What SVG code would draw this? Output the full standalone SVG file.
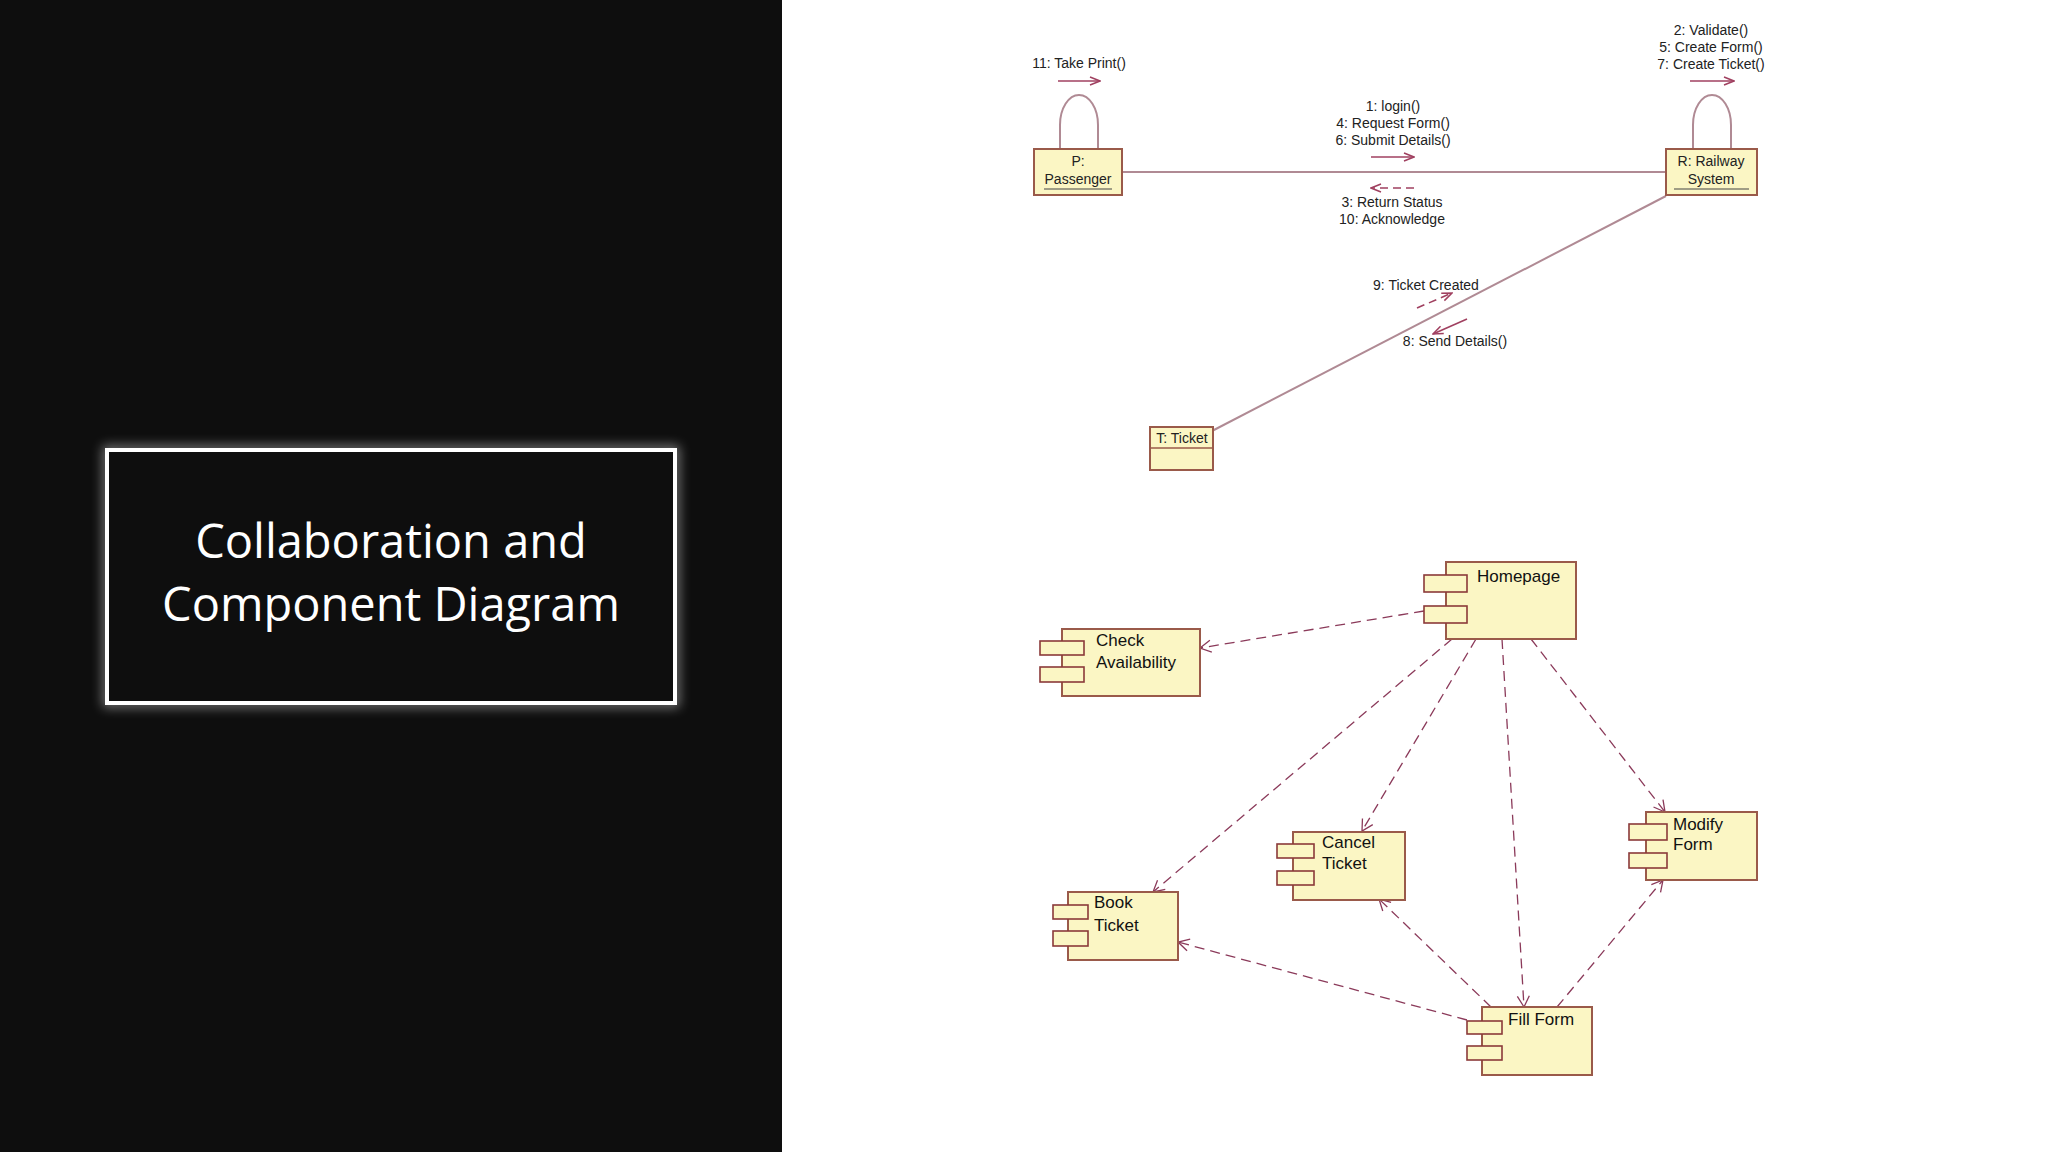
<svg xmlns="http://www.w3.org/2000/svg" width="2048" height="1152" viewBox="0 0 2048 1152">
<style>
.t{font-family:"Liberation Sans",Arial,sans-serif;font-size:14px;fill:#222}
.c{text-anchor:middle}
.ct{font-family:"Liberation Sans",Arial,sans-serif;font-size:17px;fill:#111}
.box{fill:#fbf6c4;stroke:#9a5a4a;stroke-width:2}
.tab{fill:#fbf6c4;stroke:#8b3a3a;stroke-width:1.6}
.ln{stroke:#b08a94;stroke-width:2;fill:none}
.ar{stroke:#a04060;stroke-width:1.6;fill:none}
.dep{stroke:#8b3a5a;stroke-width:1.3;fill:none;stroke-dasharray:10 6;marker-end:url(#open)}
</style>
<defs>
<marker id="open" markerWidth="14" markerHeight="14" refX="12" refY="7" orient="auto" markerUnits="userSpaceOnUse"><path d="M1,1 L12,7 L1,13" fill="none" stroke="#8b3a5a" stroke-width="1.3"/></marker>
<marker id="sa" markerWidth="12" markerHeight="10" refX="11" refY="5" orient="auto" markerUnits="userSpaceOnUse"><path d="M1,1 L11,5 L1,9" fill="none" stroke="#a04060" stroke-width="1.5"/></marker>
<filter id="glow" x="-20%" y="-20%" width="140%" height="140%"><feGaussianBlur stdDeviation="6"/></filter>
</defs>
<rect width="2048" height="1152" fill="#fff"/>
<rect width="782" height="1152" fill="#0e0e0e"/>
<g id="title">
<rect x="107" y="450" width="568" height="253" fill="none" stroke="#fff" stroke-width="8" opacity="0.5" filter="url(#glow)"/>
<rect x="107" y="450" width="568" height="253" fill="#0e0e0e" stroke="#fff" stroke-width="4"/>
<text x="391" y="558" text-anchor="middle" font-family="'Open Sans','Noto Sans',sans-serif" font-size="47" fill="#fff">Collaboration and</text>
<text x="391" y="621" text-anchor="middle" font-family="'Open Sans','Noto Sans',sans-serif" font-size="47" fill="#fff">Component Diagram</text>
</g>
<g id="connectors">
<line class="ln" x1="1122" y1="172" x2="1666" y2="172"/>
<line class="ln" x1="1666" y1="196" x2="1212" y2="431"/>
<path class="ln" d="M1060,149 V125 A19,30 0 0 1 1098,125 V149"/>
<path class="ln" d="M1693,149 V125 A19,30 0 0 1 1731,125 V149"/>
<line class="ar" x1="1058" y1="81" x2="1100" y2="81" marker-end="url(#sa)"/>
<line class="ar" x1="1690" y1="81" x2="1734" y2="81" marker-end="url(#sa)"/>
<line class="ar" x1="1371" y1="157" x2="1414" y2="157" marker-end="url(#sa)"/>
<line class="ar" x1="1414" y1="188" x2="1371" y2="188" stroke-dasharray="8 5" marker-end="url(#sa)"/>
<line class="ar" x1="1417" y1="308" x2="1452" y2="293" stroke-dasharray="8 5" marker-end="url(#sa)"/>
<line class="ar" x1="1467" y1="319" x2="1433" y2="334" marker-end="url(#sa)"/>
<line class="dep" x1="1424" y1="611" x2="1200" y2="648"/>
<line class="dep" x1="1452" y1="639" x2="1153" y2="892"/>
<line class="dep" x1="1476" y1="639" x2="1362" y2="831"/>
<line class="dep" x1="1502" y1="639" x2="1524" y2="1007"/>
<line class="dep" x1="1531" y1="639" x2="1665" y2="812"/>
<line class="dep" x1="1467" y1="1020" x2="1178" y2="942"/>
<line class="dep" x1="1491" y1="1007" x2="1379" y2="899"/>
<line class="dep" x1="1557" y1="1007" x2="1663" y2="880"/>
</g>
<g id="labels">
<text class="t c" x="1079" y="68">11: Take Print()</text>
<text class="t c" x="1711" y="35">2: Validate()</text>
<text class="t c" x="1711" y="52">5: Create Form()</text>
<text class="t c" x="1711" y="69">7: Create Ticket()</text>
<text class="t c" x="1393" y="111">1: login()</text>
<text class="t c" x="1393" y="128">4: Request Form()</text>
<text class="t c" x="1393" y="145">6: Submit Details()</text>
<text class="t c" x="1392" y="207">3: Return Status</text>
<text class="t c" x="1392" y="224">10: Acknowledge</text>
<text class="t c" x="1426" y="290">9: Ticket Created</text>
<text class="t c" x="1455" y="346">8: Send Details()</text>
</g>
<g id="passenger">
<rect class="box" x="1034" y="149" width="88" height="46"/>
<text class="t c" x="1078" y="166">P:</text>
<text class="t c" x="1078" y="184">Passenger</text>
<line x1="1044" y1="189" x2="1112" y2="189" stroke="#444" stroke-width="1"/>
</g>
<g id="railway">
<rect class="box" x="1666" y="149" width="91" height="46"/>
<text class="t c" x="1711" y="166">R: Railway</text>
<text class="t c" x="1711" y="184">System</text>
<line x1="1674" y1="189" x2="1749" y2="189" stroke="#444" stroke-width="1"/>
</g>
<g id="ticket">
<rect class="box" x="1150" y="427" width="63" height="43"/>
<line x1="1150" y1="448" x2="1213" y2="448" stroke="#9a5a4a" stroke-width="1.5"/>
<text class="t c" x="1182" y="443">T: Ticket</text>
</g>
<g id="homepage">
<rect class="box" x="1446" y="562" width="130" height="77"/>
<rect class="tab" x="1424" y="575" width="43" height="17"/>
<rect class="tab" x="1424" y="606" width="43" height="17"/>
<text class="ct" x="1477" y="582">Homepage</text>
</g>
<g id="check">
<rect class="box" x="1062" y="629" width="138" height="67"/>
<rect class="tab" x="1040" y="641" width="44" height="14"/>
<rect class="tab" x="1040" y="667" width="44" height="15"/>
<text class="ct" x="1096" y="646">Check</text>
<text class="ct" x="1096" y="668">Availability</text>
</g>
<g id="cancel">
<rect class="box" x="1293" y="832" width="112" height="68"/>
<rect class="tab" x="1277" y="844" width="37" height="14"/>
<rect class="tab" x="1277" y="871" width="37" height="14"/>
<text class="ct" x="1322" y="848">Cancel</text>
<text class="ct" x="1322" y="869">Ticket</text>
</g>
<g id="modify">
<rect class="box" x="1646" y="812" width="111" height="68"/>
<rect class="tab" x="1629" y="824" width="38" height="16"/>
<rect class="tab" x="1629" y="853" width="38" height="15"/>
<text class="ct" x="1673" y="830">Modify</text>
<text class="ct" x="1673" y="850">Form</text>
</g>
<g id="book">
<rect class="box" x="1068" y="892" width="110" height="68"/>
<rect class="tab" x="1053" y="905" width="35" height="14"/>
<rect class="tab" x="1053" y="931" width="35" height="15"/>
<text class="ct" x="1094" y="908">Book</text>
<text class="ct" x="1094" y="931">Ticket</text>
</g>
<g id="fillform">
<rect class="box" x="1482" y="1007" width="110" height="68"/>
<rect class="tab" x="1467" y="1021" width="35" height="13"/>
<rect class="tab" x="1467" y="1046" width="35" height="14"/>
<text class="ct" x="1508" y="1025">Fill Form</text>
</g>
</svg>
